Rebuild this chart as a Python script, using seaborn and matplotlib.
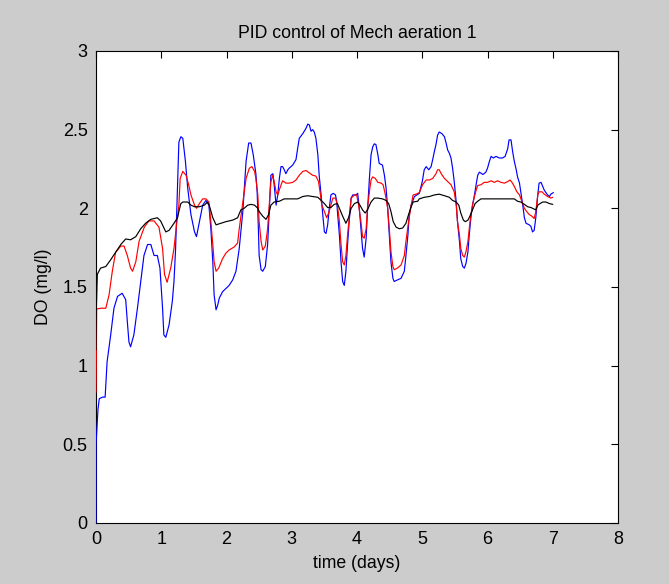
"""
PID control of Mech aeration 1 - dissolved oxygen over one week
"""

import numpy as np
import pandas as pd
import matplotlib
matplotlib.use("Agg")
import matplotlib.pyplot as plt
import seaborn as sns

# blue trace (time in days, DO in mg/l)
t_blue = [0.0, 0.001, 0.03, 0.05, 0.10, 0.14, 0.17, 0.225, 0.275, 0.33, 0.40, 0.455, 0.48, 0.505,
          0.53, 0.58, 0.635, 0.685, 0.735, 0.79, 0.84, 0.89, 0.94, 0.98, 1.02, 1.04, 1.07, 1.12,
          1.17, 1.195, 1.22, 1.245, 1.27, 1.30, 1.33, 1.37, 1.405, 1.455, 1.51, 1.54, 1.585, 1.635,
          1.685, 1.73, 1.76, 1.79, 1.81, 1.84, 1.865, 1.89, 1.94, 1.99, 2.04, 2.095, 2.145, 2.195,
          2.25, 2.30, 2.34, 2.375, 2.41, 2.45, 2.47, 2.49, 2.50, 2.53, 2.555, 2.595, 2.63, 2.655,
          2.68, 2.71, 2.73, 2.76, 2.785, 2.81, 2.835, 2.86, 2.885, 2.91, 2.94, 2.96, 3.015, 3.065,
          3.09, 3.115, 3.17, 3.22, 3.245, 3.27, 3.295, 3.32, 3.345, 3.37, 3.40, 3.42, 3.45, 3.475,
          3.50, 3.525, 3.55, 3.575, 3.60, 3.635, 3.67, 3.69, 3.70, 3.73, 3.755, 3.78, 3.805, 3.83,
          3.855, 3.88, 3.91, 3.935, 3.985, 4.01, 4.035, 4.06, 4.085, 4.11, 4.14, 4.16, 4.19, 4.215,
          4.24, 4.265, 4.29, 4.32, 4.34, 4.39, 4.42, 4.445, 4.47, 4.495, 4.52, 4.55, 4.57, 4.62,
          4.675, 4.725, 4.75, 4.78, 4.80, 4.83, 4.88, 4.955, 5.0, 5.03, 5.06, 5.10, 5.135, 5.16,
          5.185, 5.21, 5.235, 5.26, 5.30, 5.34, 5.365, 5.39, 5.415, 5.44, 5.465, 5.49, 5.52, 5.54,
          5.57, 5.59, 5.62, 5.645, 5.67, 5.70, 5.72, 5.745, 5.77, 5.80, 5.825, 5.85, 5.875, 5.93,
          5.975, 6.00, 6.03, 6.055, 6.09, 6.13, 6.18, 6.23, 6.27, 6.31, 6.33, 6.36, 6.385, 6.41,
          6.44, 6.46, 6.49, 6.51, 6.54, 6.565, 6.59, 6.64, 6.665, 6.69, 6.715, 6.74, 6.77, 6.79,
          6.82, 6.845, 6.87, 6.895, 6.92, 6.95, 6.97, 7.01]
do_blue = [0.0, 0.5, 0.72, 0.79, 0.80, 0.80, 1.025, 1.195, 1.365, 1.44, 1.46, 1.42, 1.28, 1.15,
           1.12, 1.195, 1.365, 1.535, 1.70, 1.77, 1.77, 1.70, 1.70, 1.62, 1.365, 1.195, 1.18, 1.26,
           1.41, 1.535, 1.745, 2.085, 2.42, 2.455, 2.445, 2.30, 2.13, 1.96, 1.85, 1.82, 1.915, 2.02,
           2.05, 2.02, 1.87, 1.66, 1.45, 1.355, 1.385, 1.43, 1.47, 1.49, 1.51, 1.545, 1.60, 1.745,
           1.98, 2.30, 2.415, 2.415, 2.34, 2.22, 2.10, 1.85, 1.70, 1.61, 1.60, 1.63, 1.77, 1.98,
           2.21, 2.22, 2.15, 2.02, 2.085, 2.19, 2.265, 2.265, 2.245, 2.22, 2.245, 2.255, 2.275, 2.31,
           2.38, 2.445, 2.475, 2.51, 2.535, 2.53, 2.49, 2.50, 2.485, 2.445, 2.34, 2.21, 2.085, 1.96,
           1.85, 1.84, 1.895, 2.0, 2.085, 2.095, 2.085, 2.04, 1.98, 1.83, 1.66, 1.535, 1.51, 1.60,
           1.77, 1.915, 2.065, 2.085, 2.085, 2.095, 2.0, 1.87, 1.745, 1.69, 1.81, 1.98, 2.19, 2.34,
           2.39, 2.41, 2.405, 2.34, 2.285, 2.275, 2.21, 2.13, 2.0, 1.83, 1.66, 1.555, 1.535, 1.545,
           1.555, 1.60, 1.70, 1.83, 1.96, 2.02, 2.075, 2.095, 2.17, 2.245, 2.265, 2.245, 2.265, 2.31,
           2.36, 2.405, 2.465, 2.485, 2.475, 2.455, 2.415, 2.37, 2.35, 2.32, 2.255, 2.17, 2.04, 1.915,
           1.79, 1.68, 1.63, 1.62, 1.65, 1.725, 1.83, 1.94, 2.02, 2.085, 2.15, 2.21, 2.23, 2.215,
           2.23, 2.255, 2.30, 2.33, 2.32, 2.33, 2.32, 2.32, 2.33, 2.38, 2.435, 2.435, 2.36, 2.30,
           2.245, 2.20, 2.16, 2.105, 2.02, 1.94, 1.905, 1.895, 1.885, 1.85, 1.86, 1.94, 2.085, 2.16,
           2.165, 2.14, 2.115, 2.10, 2.085, 2.075, 2.09, 2.10]

# red trace
t_red = [0.0, 0.005, 0.01, 0.08, 0.15, 0.20, 0.25, 0.30, 0.38, 0.43, 0.48, 0.53, 0.56, 0.61,
         0.66, 0.74, 0.81, 0.89, 0.965, 1.02, 1.05, 1.09, 1.145, 1.195, 1.24, 1.27, 1.29, 1.33,
         1.38, 1.42, 1.455, 1.51, 1.54, 1.585, 1.635, 1.685, 1.73, 1.76, 1.79, 1.81, 1.84, 1.88,
         1.94, 1.99, 2.04, 2.12, 2.17, 2.195, 2.25, 2.30, 2.35, 2.39, 2.43, 2.45, 2.48, 2.50,
         2.53, 2.555, 2.595, 2.63, 2.655, 2.68, 2.71, 2.73, 2.76, 2.785, 2.82, 2.86, 2.91, 2.96,
         3.015, 3.065, 3.115, 3.17, 3.22, 3.27, 3.32, 3.37, 3.41, 3.44, 3.46, 3.50, 3.535, 3.565,
         3.60, 3.63, 3.67, 3.70, 3.73, 3.755, 3.78, 3.805, 3.83, 3.855, 3.88, 3.91, 3.96, 3.995,
         4.025, 4.06, 4.085, 4.11, 4.14, 4.16, 4.19, 4.215, 4.24, 4.28, 4.32, 4.37, 4.40, 4.435,
         4.47, 4.495, 4.52, 4.55, 4.57, 4.62, 4.675, 4.725, 4.75, 4.79, 4.83, 4.86, 4.905, 4.955,
         5.005, 5.06, 5.11, 5.16, 5.21, 5.235, 5.26, 5.29, 5.34, 5.39, 5.44, 5.49, 5.52, 5.54,
         5.57, 5.59, 5.62, 5.645, 5.67, 5.70, 5.72, 5.745, 5.77, 5.80, 5.825, 5.85, 5.90, 5.95,
         6.00, 6.055, 6.105, 6.155, 6.205, 6.26, 6.31, 6.345, 6.375, 6.41, 6.45, 6.49, 6.53, 6.565,
         6.60, 6.64, 6.68, 6.715, 6.74, 6.77, 6.79, 6.835, 6.87, 6.92, 6.97, 7.0]
do_red = [0.83, 1.10, 1.36, 1.365, 1.365, 1.45, 1.60, 1.72, 1.76, 1.76, 1.70, 1.62, 1.60, 1.66,
          1.79, 1.88, 1.92, 1.92, 1.88, 1.745, 1.58, 1.53, 1.62, 1.745, 1.915, 2.02, 2.19, 2.235,
          2.21, 2.15, 2.085, 2.02, 2.0, 2.03, 2.06, 2.06, 2.04, 1.915, 1.77, 1.66, 1.60, 1.62,
          1.68, 1.715, 1.735, 1.755, 1.78, 1.87, 2.04, 2.19, 2.255, 2.265, 2.235, 2.19, 2.085, 1.915,
          1.79, 1.735, 1.76, 1.87, 2.02, 2.17, 2.21, 2.17, 2.105, 2.085, 2.13, 2.175, 2.16, 2.16,
          2.165, 2.18, 2.21, 2.235, 2.24, 2.225, 2.21, 2.205, 2.17, 2.085, 2.02, 1.98, 1.94, 1.97,
          2.02, 2.065, 2.065, 2.02, 1.915, 1.77, 1.66, 1.64, 1.70, 1.83, 1.94, 2.065, 2.085, 2.085,
          2.02, 1.915, 1.82, 1.81, 1.87, 2.0, 2.105, 2.18, 2.20, 2.19, 2.165, 2.16, 2.15, 2.085,
          2.0, 1.87, 1.725, 1.63, 1.61, 1.62, 1.64, 1.70, 1.79, 1.915, 2.02, 2.085, 2.09, 2.10,
          2.15, 2.18, 2.18, 2.19, 2.22, 2.245, 2.245, 2.22, 2.19, 2.17, 2.15, 2.105, 2.02, 1.915,
          1.83, 1.745, 1.70, 1.69, 1.725, 1.79, 1.87, 1.96, 2.02, 2.075, 2.115, 2.145, 2.15, 2.165,
          2.165, 2.175, 2.165, 2.175, 2.165, 2.16, 2.17, 2.18, 2.165, 2.14, 2.105, 2.085, 2.04, 2.0,
          1.98, 1.96, 1.95, 1.935, 1.98, 2.085, 2.105, 2.105, 2.09, 2.075, 2.065, 2.07]

# black trace
t_black = [0.0, 0.005, 0.02, 0.07, 0.15, 0.22, 0.30, 0.38, 0.455, 0.53, 0.61, 0.685, 0.76, 0.84,
           0.94, 0.99, 1.07, 1.12, 1.195, 1.25, 1.27, 1.30, 1.33, 1.405, 1.455, 1.51, 1.585, 1.66,
           1.71, 1.735, 1.79, 1.84, 1.915, 1.99, 2.095, 2.17, 2.22, 2.27, 2.325, 2.375, 2.43, 2.48,
           2.50, 2.555, 2.605, 2.645, 2.68, 2.73, 2.81, 2.885, 2.96, 3.09, 3.17, 3.245, 3.32, 3.40,
           3.45, 3.50, 3.55, 3.60, 3.65, 3.70, 3.73, 3.78, 3.83, 3.87, 3.91, 3.96, 4.01, 4.045,
           4.085, 4.125, 4.16, 4.215, 4.265, 4.32, 4.39, 4.445, 4.485, 4.52, 4.555, 4.60, 4.65, 4.70,
           4.75, 4.79, 4.83, 4.86, 4.93, 4.955, 5.03, 5.11, 5.185, 5.26, 5.34, 5.415, 5.465, 5.52,
           5.56, 5.59, 5.63, 5.66, 5.70, 5.73, 5.77, 5.81, 5.85, 5.90, 6.18, 6.41, 6.46, 6.51,
           6.565, 6.615, 6.665, 6.715, 6.74, 6.77, 6.805, 6.845, 6.895, 6.95, 7.0]
do_black = [1.10, 1.35, 1.58, 1.62, 1.63, 1.67, 1.72, 1.77, 1.805, 1.80, 1.82, 1.87, 1.905, 1.93,
            1.94, 1.92, 1.85, 1.86, 1.905, 1.94, 1.98, 2.03, 2.04, 2.04, 2.02, 2.01, 2.01, 2.02,
            2.04, 2.02, 1.94, 1.895, 1.905, 1.915, 1.925, 1.94, 1.99, 2.0, 2.02, 2.025, 2.02, 2.0,
            1.98, 1.95, 1.93, 1.96, 2.02, 2.04, 2.045, 2.06, 2.06, 2.06, 2.075, 2.08, 2.075, 2.07,
            2.05, 2.03, 2.005, 2.005, 2.025, 2.03, 2.0, 1.95, 1.905, 1.94, 2.0, 2.03, 2.04, 2.02,
            1.99, 1.97, 1.99, 2.04, 2.065, 2.065, 2.06, 2.05, 2.03, 1.98, 1.915, 1.88, 1.87, 1.875,
            1.905, 1.96, 2.01, 2.04, 2.045, 2.06, 2.07, 2.075, 2.085, 2.09, 2.08, 2.07, 2.05, 2.04,
            2.02, 1.97, 1.925, 1.915, 1.925, 1.95, 1.99, 2.03, 2.045, 2.06, 2.06, 2.06, 2.045, 2.04,
            2.025, 2.01, 2.005, 1.995, 1.99, 2.02, 2.03, 2.04, 2.04, 2.03, 2.025]

x_ticks = [0, 1, 2, 3, 4, 5, 6, 7, 8]
y_ticks = [0, 0.5, 1, 1.5, 2, 2.5, 3]
y_tick_labels = ["0", "0.5", "1", "1.5", "2", "2.5", "3"]

sns.set_theme(style="white")
plt.rcParams['font.family'] = ['Liberation Sans', 'DejaVu Sans']
plt.rcParams['text.color'] = 'black'
plt.rcParams['axes.labelcolor'] = 'black'
plt.rcParams['xtick.direction'] = 'in'
plt.rcParams['ytick.direction'] = 'in'

fig = plt.figure(figsize=(6.69, 5.84), dpi=100, facecolor='#cccccc')
ax = fig.add_axes([0.1435, 0.1045, 0.7803, 0.8082])
ax.set_facecolor('white')

# draw over the spines so the start-up jump at t=0 shows on the left edge
for t, y, c in [(t_blue, do_blue, '#0000ff'), (t_red, do_red, '#ff0000'), (t_black, do_black, '#000000')]:
    sns.lineplot(x=t, y=y, ax=ax, color=c, linewidth=0.85, sort=False, estimator=None, zorder=3)

ax.set_xlim(0, 8)
ax.set_ylim(0, 3)
ax.set_xticks(x_ticks)
ax.set_yticks(y_ticks)
ax.set_yticklabels(y_tick_labels)
ax.tick_params(axis='both', which='both', direction='in', length=5, width=0.8,
               top=True, right=True, labelsize=13, colors='black')
ax.tick_params(axis='x', pad=6)
ax.tick_params(axis='y', pad=6)
for sp in ax.spines.values():
    sp.set_color('black')
    sp.set_linewidth(0.8)

ax.set_title('PID control of Mech aeration 1', fontsize=12.7, pad=9, color='black')
ax.set_xlabel('time (days)', fontsize=12.7, labelpad=5)
ax.set_ylabel('DO (mg/l)', fontsize=12.7, labelpad=8)

fig.savefig('out.png', dpi=100, facecolor=fig.get_facecolor())
